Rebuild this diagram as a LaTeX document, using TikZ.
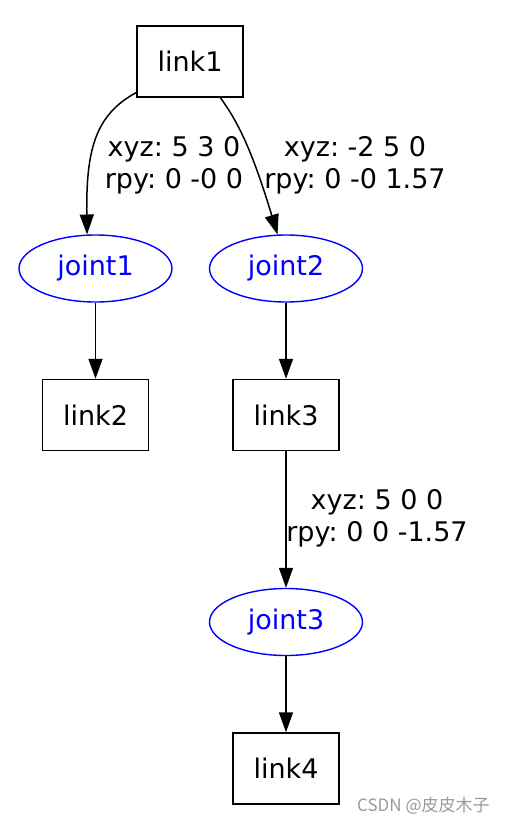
\documentclass[tikz,border=0pt]{standalone}
\usepackage{fontspec}
\setmainfont{DejaVu Sans}
\newfontfamily\cjk{Noto Sans CJK SC}
\usetikzlibrary{positioning,arrows.meta,shapes.geometric}
\frenchspacing

\begin{document}
\begin{tikzpicture}[x=1pt,y=1pt,font=\fontsize{27}{32}\selectfont]
    \tikzstyle{link}=[draw, line width=1.5pt, minimum width=106pt, minimum height=71pt, inner sep=0pt, on grid]
    \tikzstyle{joint}=[draw=blue, text=blue, line width=1.4pt, ellipse, minimum width=153pt, minimum height=67pt, inner sep=0pt, on grid]
    \tikzstyle{pose}=[align=center, inner sep=0pt]
    \tikzstyle{tf}=[line width=1.5pt, -{Triangle[length=20pt,width=14pt]}]
    \useasboundingbox (0,0) rectangle (508,-825);

    \node[link] (link1) at (190,-61.5) {link1};
    \node[joint,below left=207pt and 94.5pt of link1] (joint1) {joint1};
    \node[joint,right=190.5pt of joint1] (joint2) {joint2};
    \node[link,below=146.5pt of joint1] (link2) {link2};
    \node[link,below=146.5pt of joint2] (link3) {link3};
    \node[joint,below=207pt of link3] (joint3) {joint3};
    \node[link,below=146.5pt of joint3] (link4) {link4};

    % joint origins
    \node[pose] (pose1) at (174,-165) {xyz: 5 3 0\\rpy: 0 -0 0};
    \node[pose] (pose2) at (355,-165) {xyz: -2 5 0\\rpy: 0 -0 1.57};
    \node[pose] (pose3) at (377,-518) {xyz: 5 0 0\\rpy: 0 0 -1.57};

    \draw[tf] (link1.210) .. controls (95,-115) and (86,-150) .. (joint1.104);
    \draw[tf] (link1.310) .. controls (238,-122) and (252,-150) .. (joint2.104);
    \draw[tf] (joint1) -- (link2);
    \draw[tf] (joint2) -- (link3);
    \draw[tf] (link3) -- (joint3);
    \draw[tf] (joint3) -- (link4);

    \node[text=black!40, font=\cjk\fontsize{17}{19}\selectfont, anchor=west, inner sep=0pt] (mark) at (357,-806) {CSDN @皮皮木子};
\end{tikzpicture}
\end{document}
